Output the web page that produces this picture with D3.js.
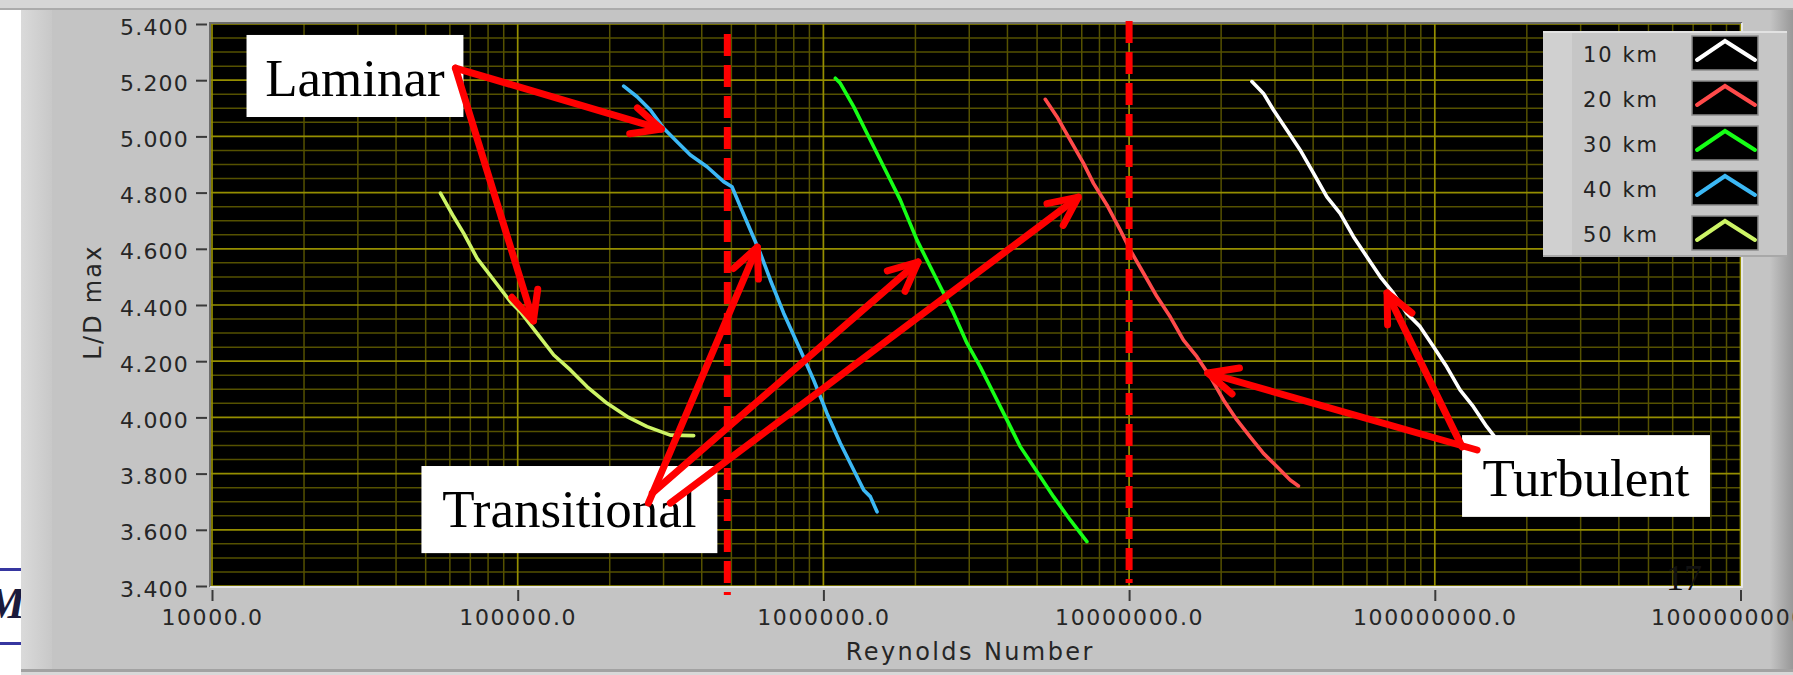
<!DOCTYPE html>
<html>
<head>
<meta charset="utf-8">
<script src="https://cdn.jsdelivr.net/npm/d3@7"></script>
<style>
  html, body { margin: 0; padding: 0; background: #ffffff; overflow: hidden; }
  svg { display: block; }
</style>
</head>
<body>
<svg id="chart" width="1793" height="675"></svg>
<script>
// ---- Data: maximum L/D against Reynolds number, one series per altitude ----
const altitudes = ["10 km", "20 km", "30 km", "40 km", "50 km"];
const seriesColors = ["#ffffff", "#ff4a4a", "#16ff16", "#3cb8f5", "#cdf466"];

const re10 = [25220000, 27510000, 29670000, 32810000, 36270000, 40100000, 44360000, 49020000, 54180000, 59930000, 66240000, 73210000, 80970000, 89510000, 98940000, 109400000, 120900000, 133700000, 147900000, 155500000, 171100000];
const ld10 = [5.195, 5.153, 5.094, 5.023, 4.952, 4.869, 4.785, 4.726, 4.643, 4.572, 4.501, 4.442, 4.371, 4.323, 4.252, 4.180, 4.098, 4.038, 3.967, 3.937, 3.877];

const re20 = [5318000, 5807000, 6418000, 7095000, 7648000, 8460000, 9352000, 10080000, 11150000, 12330000, 13630000, 15060000, 16660000, 18420000, 20360000, 22520000, 24890000, 27510000, 30430000, 33640000, 35810000];
const ld20 = [5.132, 5.070, 4.987, 4.904, 4.833, 4.756, 4.667, 4.596, 4.513, 4.430, 4.358, 4.275, 4.216, 4.145, 4.062, 3.991, 3.931, 3.872, 3.825, 3.777, 3.756];

const re30 = [1094000, 1136000, 1256000, 1424000, 1614000, 1784000, 2024000, 2237000, 2473000, 2666000, 2949000, 3260000, 3603000, 3985000, 4405000, 4869000, 5660000, 6418000, 7278000];
const ld30 = [5.207, 5.189, 5.106, 4.987, 4.869, 4.774, 4.631, 4.536, 4.442, 4.371, 4.264, 4.180, 4.086, 3.991, 3.896, 3.825, 3.718, 3.635, 3.558];

const re40 = [222200, 245800, 271600, 300200, 332100, 367200, 416300, 471700, 502300, 534900, 576800, 622000, 670600, 741400, 840500, 929100, 1027000, 1136000, 1256000, 1354000, 1424000, 1498000];
const ld40 = [5.179, 5.141, 5.094, 5.029, 4.981, 4.934, 4.892, 4.839, 4.821, 4.750, 4.667, 4.584, 4.489, 4.371, 4.240, 4.133, 4.015, 3.908, 3.813, 3.742, 3.718, 3.664];

const re50 = [55870, 61750, 66600, 73660, 83500, 94650, 102000, 115700, 131200, 148700, 168700, 196100, 227900, 265000, 315700, 376300];
const ld50 = [4.798, 4.714, 4.655, 4.566, 4.489, 4.412, 4.376, 4.299, 4.222, 4.169, 4.109, 4.050, 4.003, 3.967, 3.937, 3.935];

const xTickValues = [1e4, 1e5, 1e6, 1e7, 1e8, 1e9];
const xTickLabels = ["10000.0", "100000.0", "1000000.0", "10000000.0", "100000000.0", "1000000000.0"];
const yTickValues = [3.4, 3.6, 3.8, 4.0, 4.2, 4.4, 4.6, 4.8, 5.0, 5.2, 5.4];
const yTickLabels = ["3.400", "3.600", "3.800", "4.000", "4.200", "4.400", "4.600", "4.800", "5.000", "5.200", "5.400"];

// Flow-regime boundaries (Reynolds number)
const regimeBounds = [485000, 10000000];

// Regime callouts: label box corners and arrows, in (Re, L/D) coordinates
const calloutNames = ["Laminar", "Transitional", "Turbulent"];
const calloutRe = [[12970, 66440], [48430, 449900], [122800000, 794700000]];
const calloutLd = [[5.361, 5.069], [3.827, 3.517], [3.937, 3.646]];
// arrows: [start Re, start L/D, tip Re, tip L/D]
const arrowsLaminar = [[62560, 5.243, 295100, 5.026], [62560, 5.243, 112500, 4.343]];
const arrowsTransitional = [[267600, 3.695, 608000, 4.606], [275700, 3.731, 2040000, 4.553], [315700, 3.695, 6820000, 4.784]];
const arrowsTurbulent = [[137500000, 3.884, 18100000, 4.158], [122800000, 3.895, 69800000, 4.443]];

// ---- Setup ----
const svg = d3.select("#chart");
const W = 1793, H = 675;
const x = d3.scaleLog().domain([1e4, 1e9]).range([212, 1740.5]);
const y = d3.scaleLinear().domain([3.4, 5.4]).range([586, 24]);
const uiFont = "'DejaVu Sans', Verdana, sans-serif";
const serif = "'Liberation Serif', 'Times New Roman', serif";

const defs = svg.append("defs");
const shade = defs.append("linearGradient").attr("id", "rightShade").attr("x1", 0).attr("x2", 1);
shade.append("stop").attr("offset", 0).attr("stop-color", "#c4c4c4");
shade.append("stop").attr("offset", 1).attr("stop-color", "#989898");
const leftShade = defs.append("linearGradient").attr("id", "leftShade").attr("x1", 0).attr("x2", 1);
leftShade.append("stop").attr("offset", 0).attr("stop-color", "#dadada");
leftShade.append("stop").attr("offset", 1).attr("stop-color", "#c8c8c8");

// Slide fragments behind the front panel
svg.append("rect").attr("x", 0).attr("y", 0).attr("width", W).attr("height", H).attr("fill", "#ffffff");
svg.append("rect").attr("x", 0).attr("y", 568).attr("width", 30).attr("height", 3).attr("fill", "#3636a0");
svg.append("rect").attr("x", 0).attr("y", 642).attr("width", 30).attr("height", 3).attr("fill", "#3636a0");
svg.append("text").attr("x", -14).attr("y", 618)
  .attr("font-family", serif).attr("font-style", "italic").attr("font-weight", "bold")
  .attr("font-size", 44).attr("fill", "#1b1b3c").text("M");

// Front panel
svg.append("rect").attr("x", 0).attr("y", 0).attr("width", W).attr("height", 8).attr("fill", "#d6d6d6");
svg.append("rect").attr("x", 0).attr("y", 8).attr("width", W).attr("height", 2).attr("fill", "#ababab");
svg.append("rect").attr("x", 21).attr("y", 10).attr("width", W - 21).attr("height", 659).attr("fill", "#c4c4c4");
svg.append("rect").attr("x", 21).attr("y", 10).attr("width", 31).attr("height", 659).attr("fill", "url(#leftShade)");
svg.append("rect").attr("x", 1770).attr("y", 10).attr("width", 23).attr("height", 659).attr("fill", "url(#rightShade)");
svg.append("rect").attr("x", 21).attr("y", 669).attr("width", W - 21).attr("height", 3).attr("fill", "#a2a2a2");
svg.append("rect").attr("x", 21).attr("y", 672).attr("width", W - 21).attr("height", 3).attr("fill", "#d8d8d8");

// Plot area
const px0 = 210, px1 = 1742, py0 = 23, py1 = 587;
svg.append("rect").attr("x", px0).attr("y", py0).attr("width", px1 - px0).attr("height", py1 - py0).attr("fill", "#000000");

// Grid
const gridG = svg.append("g");
const isMajorX = v => Math.abs(Math.log10(v) - Math.round(Math.log10(v))) < 1e-9;
const yGrid = d3.range(0, 41).map(i => +(3.4 + i * 0.05).toFixed(2));
const isMajorY = v => Math.abs((v - 3.4) / 0.2 - Math.round((v - 3.4) / 0.2)) < 1e-6;
const minorColor = "#555100", majorColor = "#958e00";

gridG.selectAll("line.hminor").data(yGrid.filter(v => !isMajorY(v))).join("line")
  .attr("x1", px0).attr("x2", px1).attr("y1", d => y(d)).attr("y2", d => y(d))
  .attr("stroke", minorColor).attr("stroke-width", 1.5);
gridG.selectAll("line.vminor").data(x.ticks().filter(v => !isMajorX(v))).join("line")
  .attr("x1", d => x(d)).attr("x2", d => x(d)).attr("y1", py0).attr("y2", py1)
  .attr("stroke", minorColor).attr("stroke-width", 1.5);
gridG.selectAll("line.hmajor").data(yGrid.filter(isMajorY)).join("line")
  .attr("x1", px0).attr("x2", px1).attr("y1", d => y(d)).attr("y2", d => y(d))
  .attr("stroke", majorColor).attr("stroke-width", 1.7);
gridG.selectAll("line.vmajor").data(x.ticks().filter(isMajorX)).join("line")
  .attr("x1", d => x(d)).attr("x2", d => x(d)).attr("y1", py0).attr("y2", py1)
  .attr("stroke", majorColor).attr("stroke-width", 1.7);

// Plot frame (inset look)
svg.append("path").attr("d", `M${px0},${py1} V${py0} H${px1}`).attr("fill", "none").attr("stroke", "#6c6c6c").attr("stroke-width", 2);
svg.append("path").attr("d", `M${px1},${py0} V${py1} H${px0}`).attr("fill", "none").attr("stroke", "#e6e6e6").attr("stroke-width", 2);

// Series lines
const seriesRe = [re10, re20, re30, re40, re50];
const seriesLd = [ld10, ld20, ld30, ld40, ld50];
const line = d3.line().x(d => x(d[0])).y(d => y(d[1]));
const seriesG = svg.append("g");
// draw 50 km first so the lower-altitude traces sit on top
for (let s = 4; s >= 0; s--) {
  const pts = seriesRe[s].map((r, i) => [r, seriesLd[s][i]]);
  seriesG.append("path").attr("d", line(pts)).attr("fill", "none")
    .attr("stroke", seriesColors[s]).attr("stroke-width", 3.6)
    .attr("stroke-linejoin", "round").attr("stroke-linecap", "round");
}

// Axes
const xAxisG = svg.append("g").attr("transform", "translate(0,590)")
  .call(d3.axisBottom(x).tickValues(xTickValues).tickFormat((d, i) => xTickLabels[i]).tickSize(11));
xAxisG.select(".domain").remove();
xAxisG.selectAll(".tick line").attr("stroke", "#3a3a3a").attr("stroke-width", 2);
xAxisG.selectAll(".tick text").attr("dy", null).attr("y", 35)
  .attr("font-family", uiFont).attr("font-size", 22).attr("letter-spacing", 1.6).attr("fill", "#262626");

const yAxisG = svg.append("g").attr("transform", "translate(207,0)")
  .call(d3.axisLeft(y).tickValues(yTickValues).tickFormat((d, i) => yTickLabels[i]).tickSize(11).tickPadding(7));
yAxisG.select(".domain").remove();
yAxisG.selectAll(".tick line").attr("stroke", "#3a3a3a").attr("stroke-width", 2);
yAxisG.selectAll(".tick text").attr("dy", null).attr("y", 10)
  .attr("font-family", uiFont).attr("font-size", 22).attr("letter-spacing", 1.2).attr("fill", "#262626");

svg.append("text").attr("x", (x.range()[0] + x.range()[1]) / 2 - 6).attr("y", 660)
  .attr("text-anchor", "middle").attr("font-family", uiFont).attr("font-size", 24)
  .attr("letter-spacing", 2.4).attr("fill", "#262626").text("Reynolds Number");
svg.append("text").attr("transform", "translate(101,302) rotate(-90)")
  .attr("text-anchor", "middle").attr("font-family", uiFont).attr("font-size", 24)
  .attr("letter-spacing", 2.2).attr("fill", "#262626").text("L/D max");

// Legend
const lg = svg.append("g");
lg.append("rect").attr("x", 1543).attr("y", 31).attr("width", 244).attr("height", 226).attr("fill", "#c6c6c6");
lg.append("rect").attr("x", 1543).attr("y", 31).attr("width", 29).attr("height", 226).attr("fill", "#d0d0d0");
lg.append("rect").attr("x", 1543).attr("y", 31).attr("width", 244).attr("height", 2).attr("fill", "#e2e2e2");
lg.append("rect").attr("x", 1543).attr("y", 255).attr("width", 244).attr("height", 2).attr("fill", "#a8a8a8");
altitudes.forEach((name, i) => {
  const cy = 53 + i * 45;
  lg.append("text").attr("x", 1583).attr("y", cy + 9)
    .attr("font-family", uiFont).attr("font-size", 21).attr("letter-spacing", 2).attr("fill", "#222222").text(name);
  lg.append("rect").attr("x", 1692).attr("y", cy - 17).attr("width", 66).attr("height", 34)
    .attr("fill", "#000000").attr("stroke", "#8c8c8c").attr("stroke-width", 1.5);
  lg.append("path").attr("d", `M1697,${cy + 7} L1725,${cy - 12} L1755,${cy + 7}`)
    .attr("fill", "none").attr("stroke", seriesColors[i]).attr("stroke-width", 4).attr("stroke-linecap", "round");
});

// Regime boundaries (dashed)
svg.append("line").attr("x1", x(regimeBounds[0])).attr("x2", x(regimeBounds[0]))
  .attr("y1", y(5.364)).attr("y2", y(3.368))
  .attr("stroke", "#ff0000").attr("stroke-width", 7).attr("stroke-dasharray", "22,9");
svg.append("line").attr("x1", x(regimeBounds[1])).attr("x2", x(regimeBounds[1]))
  .attr("y1", y(5.411)).attr("y2", y(3.411))
  .attr("stroke", "#ff0000").attr("stroke-width", 7).attr("stroke-dasharray", "22,9");

// Page number
svg.append("text").attr("x", 1666).attr("y", 590).attr("font-family", serif)
  .attr("font-size", 36).attr("fill", "#111111").text("17");

// Callout boxes
const calloutG = svg.append("g");
calloutNames.forEach((name, i) => {
  const bx0 = x(calloutRe[i][0]), bx1 = x(calloutRe[i][1]);
  const by0 = y(calloutLd[i][0]), by1 = y(calloutLd[i][1]);
  calloutG.append("rect").attr("x", bx0).attr("y", by0).attr("width", bx1 - bx0).attr("height", by1 - by0).attr("fill", "#ffffff");
  calloutG.append("text").attr("x", (bx0 + bx1) / 2).attr("y", by0 + 61).attr("text-anchor", "middle")
    .attr("font-family", serif).attr("font-size", 53).attr("fill", "#000000").text(name);
});

// Callout arrows
const arrowG = svg.append("g");
function drawArrow(a) {
  const sx = x(a[0]), sy = y(a[1]), tx = x(a[2]), ty = y(a[3]);
  const ang = Math.atan2(sy - ty, sx - tx);
  const len = 32, spread = 25 * Math.PI / 180;
  const h1 = [tx + len * Math.cos(ang + spread), ty + len * Math.sin(ang + spread)];
  const h2 = [tx + len * Math.cos(ang - spread), ty + len * Math.sin(ang - spread)];
  arrowG.append("line").attr("x1", sx).attr("y1", sy).attr("x2", tx).attr("y2", ty)
    .attr("stroke", "#ff0000").attr("stroke-width", 7).attr("stroke-linecap", "round");
  arrowG.append("path").attr("d", `M${h1[0]},${h1[1]} L${tx},${ty} L${h2[0]},${h2[1]}`)
    .attr("fill", "none").attr("stroke", "#ff0000").attr("stroke-width", 7)
    .attr("stroke-linecap", "round").attr("stroke-linejoin", "round");
}
[...arrowsLaminar, ...arrowsTransitional, ...arrowsTurbulent].forEach(drawArrow);
</script>
</body>
</html>
